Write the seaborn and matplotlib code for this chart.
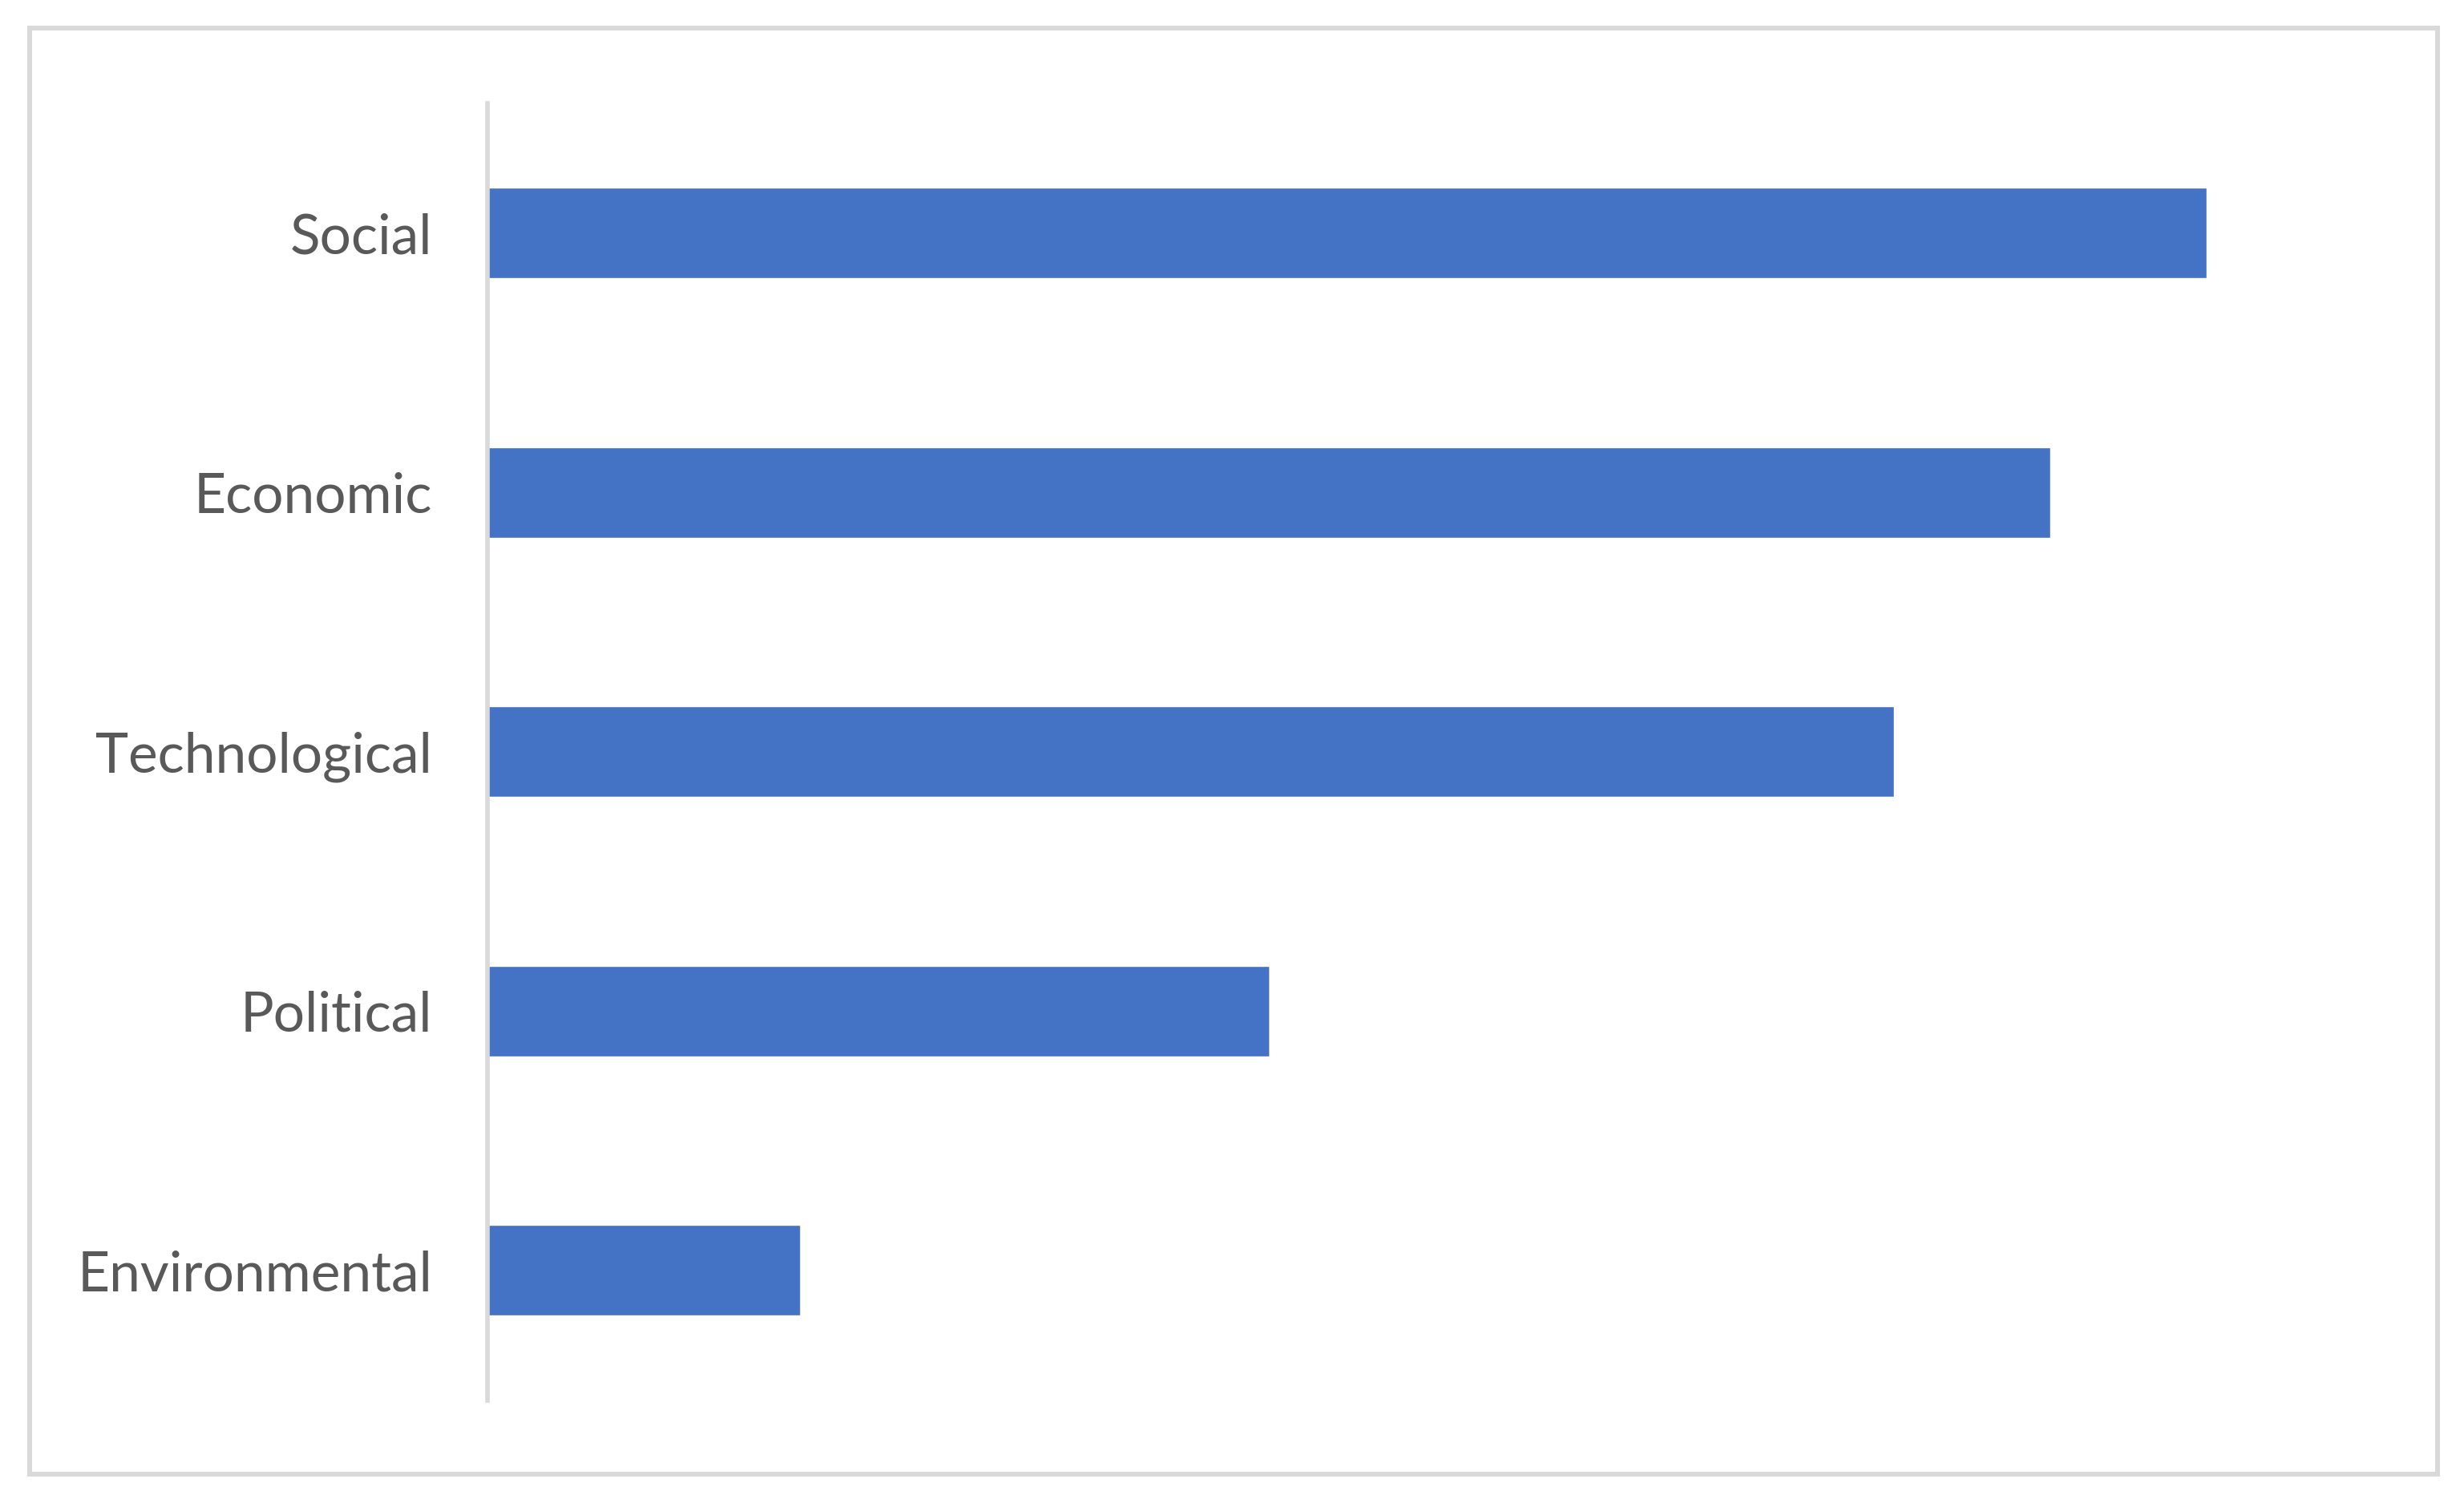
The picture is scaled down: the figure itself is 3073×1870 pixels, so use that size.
import matplotlib
matplotlib.use('Agg')
import matplotlib.pyplot as plt
import seaborn as sns
import pandas as pd
from matplotlib.patches import Rectangle

# Data
categories = ['Social', 'Economic', 'Technological', 'Political', 'Environmental']
values = [11, 10, 9, 5, 2]

df = pd.DataFrame({'category': categories, 'value': values})

sns.set_style('white')
plt.rcParams['font.family'] = ['Lato', 'DejaVu Sans']

fig = plt.figure(figsize=(30.73, 18.70), dpi=100)
ax = fig.add_axes([0.198, 0.066, 0.761, 0.865])

sns.barplot(data=df, x='value', y='category', order=categories,
            color='#4472C4', saturation=1, width=0.35, ax=ax)

ax.set_xlim(0, 12)
ax.set_ylim(4.5, -0.5)
ax.set_xlabel('')
ax.set_ylabel('')
ax.set_xticks([])
for side in ['top', 'right', 'bottom']:
    ax.spines[side].set_visible(False)
ax.spines['left'].set_color('#d9d9d9')
ax.spines['left'].set_linewidth(4)
ax.tick_params(axis='y', length=0, pad=50, labelsize=50, labelcolor='#595959')

# chart frame
frame = Rectangle((0.0121, 0.0168), 0.9771, 0.9643, transform=fig.transFigure,
                  fill=False, edgecolor='#d9d9d9', linewidth=4.3)
fig.patches.append(frame)

fig.savefig('out.png', dpi=100, facecolor='white')
plt.close(fig)
